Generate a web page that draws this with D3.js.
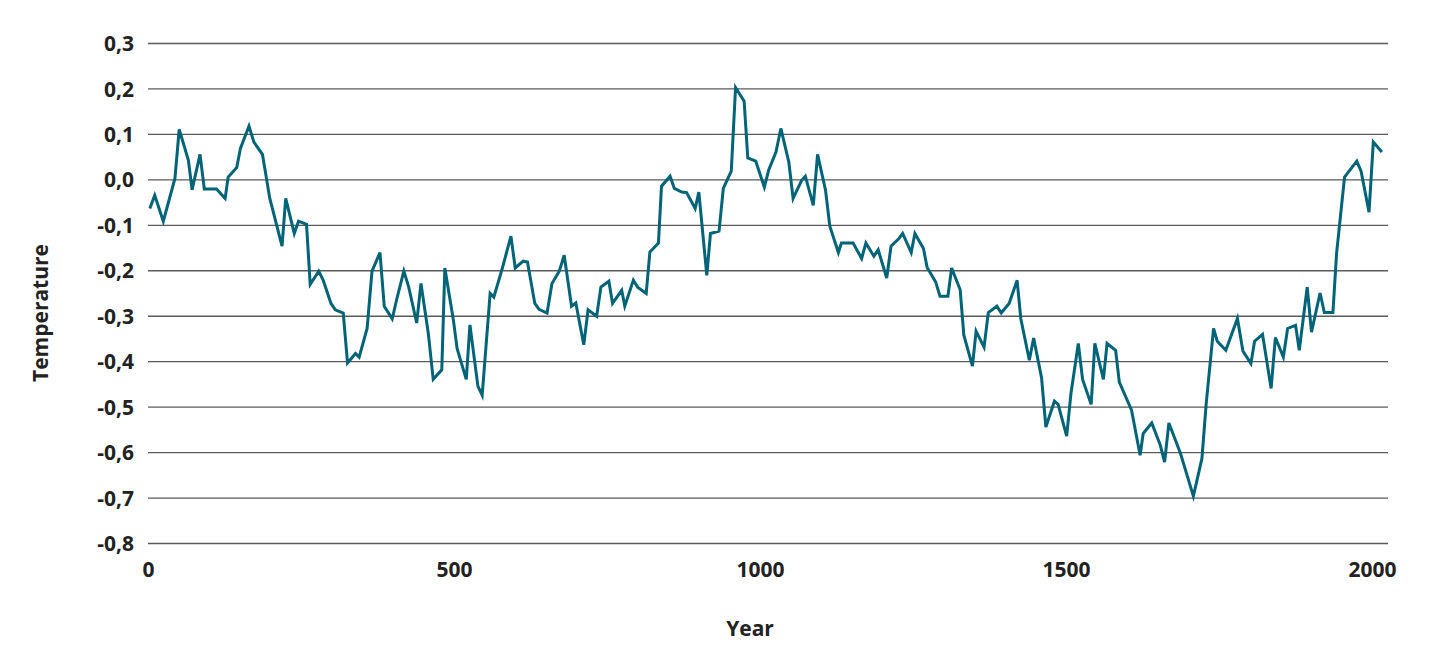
<!DOCTYPE html>
<html><head><meta charset="utf-8">
<script src="https://cdn.jsdelivr.net/npm/d3@7"></script>
<style>body{margin:0;background:#fff}svg text{font-family:"Open Sans",Lato,sans-serif;font-weight:700;fill:#222}</style>
</head><body><svg id="c" width="1437" height="669"></svg>
<script>
const years = [3,11,25,44,51,66,72,85,92,112,126,131,145,151,165,173,187,199,219,225,239,246,259,265,279,286,299,306,319,326,339,345,358,366,379,386,399,406,418,426,439,446,458,466,480,485,499,505,520,526,539,546,559,565,578,593,600,613,620,632,639,652,660,672,680,692,699,712,719,733,740,753,759,774,779,793,800,814,820,834,839,853,860,872,880,894,900,913,919,933,940,953,960,974,980,993,1007,1014,1026,1034,1047,1054,1068,1074,1087,1094,1107,1114,1128,1133,1152,1166,1173,1186,1193,1207,1214,1227,1233,1247,1253,1267,1273,1287,1294,1307,1313,1327,1333,1347,1353,1366,1373,1387,1394,1407,1420,1426,1440,1447,1460,1467,1481,1487,1501,1508,1520,1527,1541,1547,1561,1567,1581,1587,1607,1621,1626,1640,1654,1661,1668,1687,1708,1722,1729,1741,1747,1761,1780,1789,1802,1808,1821,1835,1842,1855,1862,1875,1881,1894,1901,1915,1922,1936,1942,1955,1975,1982,1995,2002,2016];
const temps = [-0.064,-0.035,-0.092,0.002,0.110,0.042,-0.023,0.055,-0.021,-0.021,-0.042,0.005,0.026,0.068,0.117,0.082,0.055,-0.042,-0.147,-0.042,-0.119,-0.092,-0.099,-0.231,-0.202,-0.221,-0.273,-0.287,-0.294,-0.404,-0.383,-0.391,-0.328,-0.202,-0.161,-0.279,-0.307,-0.266,-0.202,-0.237,-0.316,-0.229,-0.339,-0.440,-0.419,-0.195,-0.310,-0.372,-0.440,-0.320,-0.455,-0.475,-0.251,-0.259,-0.200,-0.125,-0.195,-0.180,-0.182,-0.273,-0.286,-0.294,-0.229,-0.202,-0.167,-0.279,-0.272,-0.364,-0.287,-0.301,-0.237,-0.224,-0.273,-0.244,-0.279,-0.222,-0.237,-0.251,-0.160,-0.140,-0.015,0.007,-0.020,-0.028,-0.029,-0.064,-0.028,-0.211,-0.119,-0.114,-0.020,0.018,0.202,0.172,0.047,0.040,-0.017,0.020,0.060,0.112,0.038,-0.042,-0.002,0.007,-0.057,0.055,-0.024,-0.103,-0.161,-0.140,-0.140,-0.174,-0.140,-0.169,-0.155,-0.217,-0.147,-0.130,-0.119,-0.161,-0.119,-0.152,-0.194,-0.226,-0.257,-0.257,-0.195,-0.243,-0.343,-0.411,-0.334,-0.369,-0.293,-0.279,-0.294,-0.273,-0.222,-0.306,-0.398,-0.349,-0.437,-0.545,-0.488,-0.495,-0.565,-0.471,-0.361,-0.440,-0.495,-0.361,-0.440,-0.361,-0.376,-0.446,-0.508,-0.607,-0.559,-0.536,-0.585,-0.622,-0.536,-0.603,-0.697,-0.614,-0.493,-0.328,-0.356,-0.376,-0.306,-0.378,-0.405,-0.356,-0.341,-0.460,-0.348,-0.391,-0.328,-0.321,-0.376,-0.237,-0.336,-0.250,-0.293,-0.293,-0.163,0.005,0.040,0.018,-0.072,0.082,0.060];
const yTicks = [0.3,0.2,0.1,0.0,-0.1,-0.2,-0.3,-0.4,-0.5,-0.6,-0.7,-0.8];
const xTicks = [0,500,1000,1500,2000];
const data = years.map((y,i)=>({year:y,temp:temps[i]}));

const svg = d3.select("#c");
const x = d3.scaleLinear().domain([0,2026]).range([148,1388]);
const y = d3.scaleLinear().domain([-0.8,0.3]).range([543,43]);
const fmt = v => d3.format(".1f")(v).replace(".",",").replace("−","-");

const gy = svg.append("g").attr("transform","translate(148,0)")
  .call(d3.axisLeft(y).tickValues(yTicks).tickSize(-1240).tickPadding(14).tickFormat(fmt));
gy.select(".domain").remove();
gy.selectAll(".tick line").attr("stroke","#5a5a5a").attr("stroke-width",1.3);
gy.selectAll(".tick text").attr("font-size",21).attr("x",-14).attr("dy","0.36em");

const gx = svg.append("g").attr("transform","translate(0,543)")
  .call(d3.axisBottom(x).tickValues(xTicks).tickSize(0).tickPadding(19).tickFormat(d3.format("d")));
gx.select(".domain").remove();
gx.selectAll(".tick text").attr("font-size",21);

svg.append("path").datum(data)
  .attr("fill","none").attr("stroke","#006478").attr("stroke-width",3).attr("stroke-linejoin","miter")
  .attr("d", d3.line().x(d=>x(d.year)).y(d=>y(d.temp)));

svg.append("text").attr("x",750).attr("y",636).attr("text-anchor","middle").attr("font-size",21).text("Year");
svg.append("text").attr("transform","translate(48,313) rotate(-90)").attr("text-anchor","middle").attr("font-size",21).text("Temperature");
</script></body></html>
